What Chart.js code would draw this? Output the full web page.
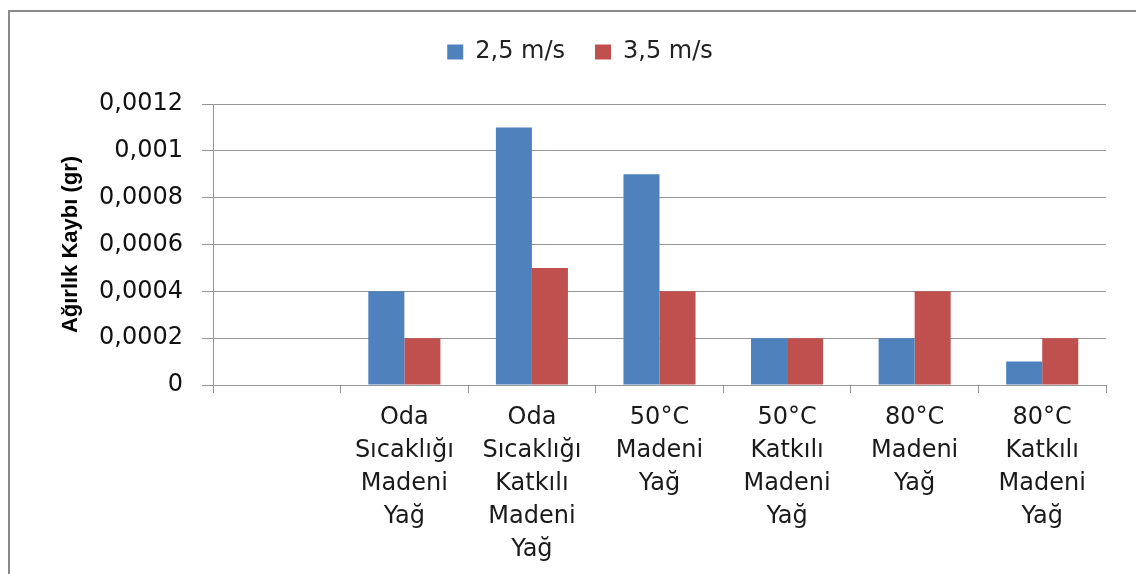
<!DOCTYPE html>
<html>
<head>
<meta charset="utf-8">
<script src="https://cdn.jsdelivr.net/npm/chart.js@4.4.1/dist/chart.umd.min.js"></script>
<style>
  html, body { margin: 0; padding: 0; background: #ffffff; }
  #wrap { position: absolute; left: 0; top: 0; width: 1136px; height: 574px; }
</style>
</head>
<body>
<div id="wrap"><canvas id="c"></canvas></div>
<script>
// Test groups (multi-line axis labels); the first slot is left empty
const categories = [
  [''],
  ['Oda', 'Sıcaklığı', 'Madeni', 'Yağ'],
  ['Oda', 'Sıcaklığı', 'Katkılı', 'Madeni', 'Yağ'],
  ['50°C', 'Madeni', 'Yağ'],
  ['50°C', 'Katkılı', 'Madeni', 'Yağ'],
  ['80°C', 'Madeni', 'Yağ'],
  ['80°C', 'Katkılı', 'Madeni', 'Yağ']
];
const seriesNames = ['2,5 m/s', '3,5 m/s'];
const speed25 = [null, 0.0004, 0.0011, 0.0009, 0.0002, 0.0002, 0.0001];
const speed35 = [null, 0.0002, 0.0005, 0.0004, 0.0002, 0.0004, 0.0002];
const yTicks = [0, 0.0002, 0.0004, 0.0006, 0.0008, 0.001, 0.0012];
const yTitle = 'Ağırlık Kaybı (gr)';

const seriesColors = ['#4F81BD', '#C0504D'];
const gridColor = '#959595';

// Decimal comma formatting of axis values
function fmt(v) {
  if (Math.abs(v) < 1e-12) return '0';
  return v.toFixed(4).replace(/0+$/, '').replace('.', ',');
}

// Outer frame of the chart object
const framePlugin = {
  id: 'frame',
  beforeDraw(chart) {
    const ctx = chart.ctx;
    ctx.save();
    ctx.strokeStyle = '#8a8a8a';
    ctx.lineWidth = 2;
    ctx.beginPath();
    ctx.moveTo(9, chart.height + 5);
    ctx.lineTo(9, 11);
    ctx.lineTo(chart.width + 5, 11);
    ctx.stroke();
    ctx.restore();
  }
};

new Chart(document.getElementById('c'), {
  type: 'bar',
  data: {
    labels: categories,
    datasets: [
      { label: seriesNames[0], data: speed25, backgroundColor: seriesColors[0], borderWidth: 0 },
      { label: seriesNames[1], data: speed35, backgroundColor: seriesColors[1], borderWidth: 0 }
    ]
  },
  options: {
    responsive: true,
    maintainAspectRatio: false,
    animation: false,
    layout: { padding: { left: 54, right: 30, top: 10, bottom: 0 } },
    datasets: { bar: { categoryPercentage: 0.565, barPercentage: 1.0 } },
    plugins: {
      legend: {
        position: 'top',
        labels: {
          boxWidth: 16,
          boxHeight: 15,
          padding: 30,
          color: '#222222',
          font: { family: 'DejaVu Sans', size: 24 }
        }
      },
      // empty spacer between the legend and the plot area
      subtitle: {
        display: true,
        text: ' ',
        position: 'top',
        weight: 100,
        font: { size: 10, lineHeight: 1 },
        padding: { top: 20, bottom: 0 }
      },
      tooltip: { enabled: false }
    },
    scales: {
      x: {
        grid: {
          display: true,
          drawOnChartArea: false,
          drawTicks: true,
          tickLength: 8,
          color: gridColor,
          offset: true
        },
        border: { display: true, color: gridColor },
        ticks: {
          color: '#1a1a1a',
          maxRotation: 0,
          autoSkip: false,
          padding: 8,
          font: { family: 'DejaVu Sans', size: 24, lineHeight: 1.375 }
        },
        afterFit(scale) { scale.height = 189; }
      },
      y: {
        min: 0,
        max: 0.0012,
        afterBuildTicks(scale) { scale.ticks = yTicks.map(v => ({ value: v })); },
        grid: { color: gridColor, tickLength: 11, lineWidth: 1 },
        border: { display: true, color: gridColor },
        ticks: {
          color: '#111111',
          padding: 19,
          font: { family: 'DejaVu Sans', size: 24 },
          callback: v => fmt(v)
        },
        title: {
          display: true,
          text: yTitle,
          color: '#000000',
          font: { family: 'Liberation Sans', size: 22, weight: 'bold' },
          padding: { top: 4, bottom: 0 }
        },
        afterFit(scale) { scale.width = 159; }
      }
    }
  },
  plugins: [framePlugin]
});
</script>
</body>
</html>
